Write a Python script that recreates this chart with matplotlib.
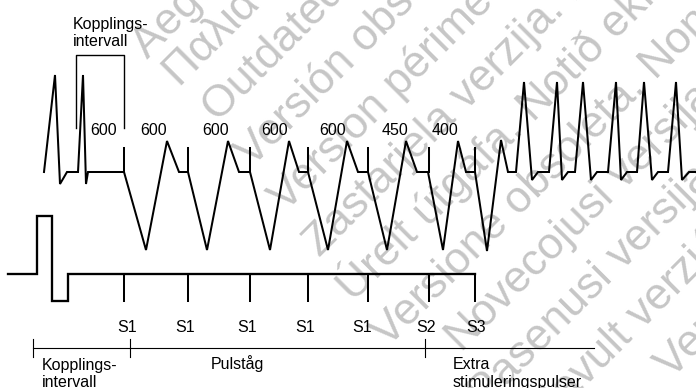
import matplotlib
matplotlib.use("Agg")
import matplotlib.pyplot as plt

# ==============================
# DATA (pixel-like units, y grows downward)
# ==============================
# top trace: two intrinsic beats, paced train S1..S3, then induced tachycardia
ecg_x = [44, 55, 60, 67, 78, 83, 86, 88, 124,
         146, 167, 179, 188,
         207, 228, 239, 250,
         270, 289, 299, 308,
         328, 347, 358, 368,
         387, 406, 417, 428,
         443, 458, 466, 475,
         487, 501, 508, 516,
         524, 532, 538, 549,
         557, 562, 568, 575,
         583, 591, 597, 608,
         616, 621, 627, 637,
         644, 652, 658, 668,
         676, 682, 689, 696]
ecg_y = [172, 75, 184, 172, 172, 75, 184, 172, 172,
         250, 141, 172, 172,
         250, 141, 172, 172,
         250, 141, 172, 172,
         250, 141, 172, 172,
         250, 141, 172, 172,
         250, 141, 172, 172,
         251, 140, 172, 172,
         82, 180, 172, 172,
         82, 180, 172, 172,
         82, 180, 172, 172,
         82, 180, 172, 172,
         82, 180, 172, 172,
         82, 180, 172, 172]

# stimulus positions (S1 x5, S2, S3)
stim_x = [124, 188, 250, 308, 368, 429, 475]
stim_names = ["S1", "S1", "S1", "S1", "S1", "S2", "S3"]
stim_label_x = [127, 185, 247, 305, 362, 426, 476]

# coupling intervals written above the trace
interval_text = ["600", "600", "600", "600", "600", "450", "400"]
interval_x = [104, 154, 216, 275, 333, 395, 445]

# stimulation channel
pulse_x = [8, 37, 37, 52, 52, 68, 68, 475]
pulse_y = [274, 274, 216, 216, 301, 301, 274, 274]

# coupling interval bracket at the top
bracket_x = [76, 76, 124, 124]
bracket_y = [128, 55, 55, 128]

# phase ruler at the bottom
ruler_x = [33, 594]
ruler_ticks = [33, 130, 425]

# watermark lines (baseline start x, and x + y along the baseline)
wm_text = [
    "Aegunud versioon. Ärge kasutage.",
    "Παλιά έκδοση. Μην τη χρησιμοποιείτε.",
    "Outdated version. Do not use.",
    "Versión obsoleta. No utilizar.",
    "Version périmée. Ne pas utiliser.",
    "Zastarjela verzija. Nemojte upotrebljavati.",
    "Úrelt útgáfa. Notið ekki.",
    "Versione obsoleta. Non utilizzare.",
    "Novecojusi versija. Neizmantot.",
    "Pasenusi versija. Nenaudokite.",
    "Elavult verzió. Ne használja!",
    "Verouderde versie. Niet gebruiken.",
]
wm_x0 = [148, 180, 218, 252, 286, 320, 354, 388, 462, 485, 540, 672]
wm_c = [208, 268, 341, 420, 499, 578, 657, 736, 815, 894, 973, 1052]

# ==============================
# PLOT
# ==============================
W, H = 696, 388
fig = plt.figure(figsize=(W / 100, H / 100), dpi=100)
ax = fig.add_axes([0, 0, 1, 1])
ax.set_xlim(0, W)
ax.set_ylim(H, 0)
ax.axis("off")

FONT = "Liberation Sans"
LW = 1.45

for txt, x0, c in zip(wm_text, wm_x0, wm_c):
    ax.text(x0, c - x0, txt, rotation=45, rotation_mode="anchor",
            ha="left", va="baseline", fontsize=32, color="#c6c6c6",
            family=FONT, zorder=0)

ax.plot(ecg_x, ecg_y, color="black", lw=LW, solid_joinstyle="miter", zorder=3)
for x in stim_x:
    ax.plot([x, x], [148, 172], color="black", lw=LW, zorder=3)

ax.plot(pulse_x, pulse_y, color="black", lw=LW * 1.15, solid_joinstyle="miter", zorder=3)
for x in stim_x:
    ax.plot([x, x], [274, 301], color="black", lw=LW, zorder=3)

ax.plot(bracket_x, bracket_y, color="black", lw=1.0, zorder=3)

ax.plot(ruler_x, [348, 348], color="black", lw=0.8, zorder=3)
for x in ruler_ticks:
    ax.plot([x, x], [339, 357], color="black", lw=0.8, zorder=3)

fs = 11.5
for t, x in zip(interval_text, interval_x):
    ax.text(x, 135, t, ha="center", va="baseline", fontsize=fs, family=FONT, zorder=4)
for t, x in zip(stim_names, stim_label_x):
    ax.text(x, 332, t, ha="center", va="baseline", fontsize=fs, family=FONT, zorder=4)

ax.text(73, 29.5, "Kopplings-", ha="left", va="baseline", fontsize=fs, family=FONT)
ax.text(73, 46.5, "intervall", ha="left", va="baseline", fontsize=fs, family=FONT)
ax.text(42, 370, "Kopplings-", ha="left", va="baseline", fontsize=fs, family=FONT)
ax.text(42, 387, "intervall", ha="left", va="baseline", fontsize=fs, family=FONT)
ax.text(237, 368.5, "Pulståg", ha="center", va="baseline", fontsize=fs, family=FONT)
ax.text(453, 369, "Extra", ha="left", va="baseline", fontsize=fs, family=FONT)
ax.text(453, 386.5, "stimuleringspulser", ha="left", va="baseline", fontsize=fs, family=FONT)

fig.savefig("out.png", dpi=100)
